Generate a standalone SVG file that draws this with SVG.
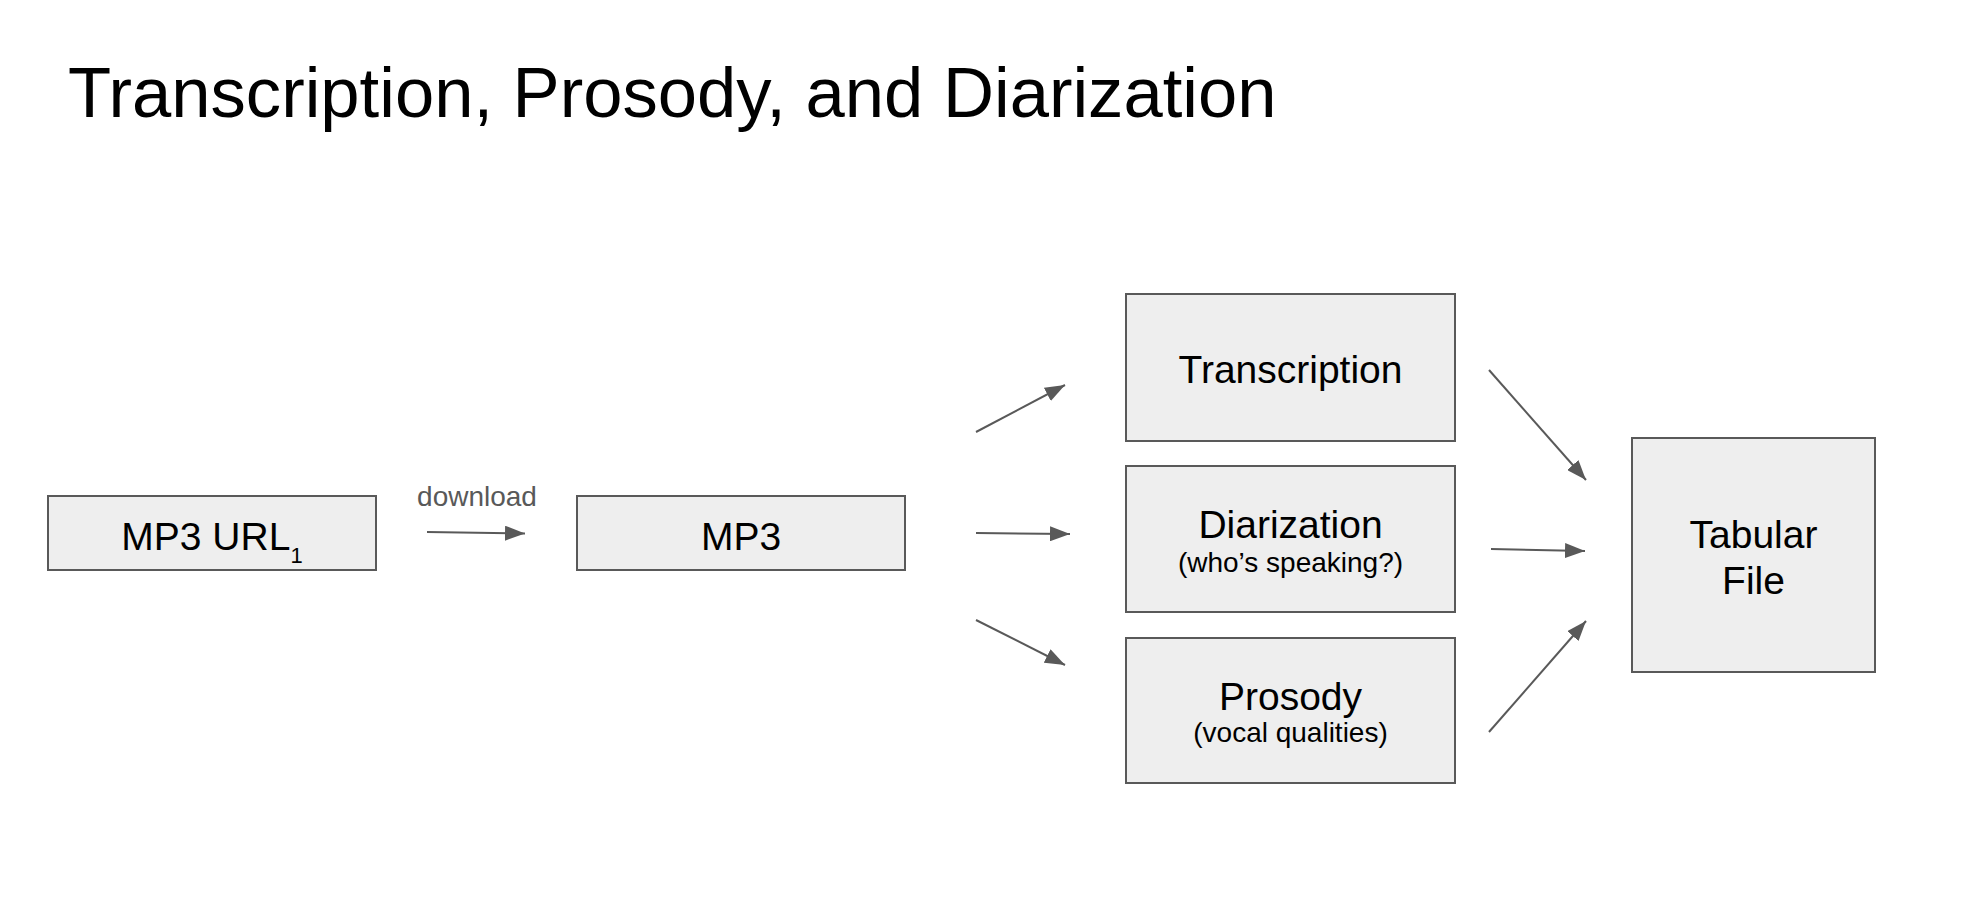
<svg xmlns="http://www.w3.org/2000/svg" width="1980" height="914" viewBox="0 0 1980 914">
  <defs>
    <style>
      text { font-family: "Liberation Sans", Arial, sans-serif; fill: #000; }
      .title { font-size: 70.6px; }
      .label { font-size: 39px; text-anchor: middle; }
      .sub { font-size: 28px; text-anchor: middle; }
      .edge-label { font-size: 28px; text-anchor: middle; fill: #595959; }
      .box { fill: #eeeeee; stroke: #595959; stroke-width: 2; }
      .edge { stroke: #595959; stroke-width: 2; fill: none; marker-end: url(#arrow); }
    </style>
    <marker id="arrow" viewBox="0 0 20 15" refX="20" refY="7.5" markerWidth="20" markerHeight="15" markerUnits="userSpaceOnUse" orient="auto">
      <path d="M0,0 L20,7.5 L0,15 Z" fill="#595959"/>
    </marker>
  </defs>

  <rect width="1980" height="914" fill="#ffffff"/>

  <text class="title" x="68" y="117">Transcription, Prosody, and Diarization</text>

  <!-- pipeline stages -->
  <g id="mp3-url">
    <rect class="box" x="48" y="496" width="328" height="74"/>
    <text class="label" x="212" y="550">MP3 URL<tspan font-size="22px" dy="13">1</tspan></text>
  </g>

  <g id="mp3">
    <rect class="box" x="577" y="496" width="328" height="74"/>
    <text class="label" x="741" y="550">MP3</text>
  </g>

  <g id="transcription">
    <rect class="box" x="1126" y="294" width="329" height="147"/>
    <text class="label" x="1290.5" y="383">Transcription</text>
  </g>

  <g id="diarization">
    <rect class="box" x="1126" y="466" width="329" height="146"/>
    <text class="label" x="1290.5" y="538">Diarization</text>
    <text class="sub" x="1290.5" y="572">(who’s speaking?)</text>
  </g>

  <g id="prosody">
    <rect class="box" x="1126" y="638" width="329" height="145"/>
    <text class="label" x="1290.5" y="710">Prosody</text>
    <text class="sub" x="1290.5" y="742">(vocal qualities)</text>
  </g>

  <g id="tabular-file">
    <rect class="box" x="1632" y="438" width="243" height="234"/>
    <text class="label" x="1753.5" y="548">Tabular</text>
    <text class="label" x="1753.5" y="594">File</text>
  </g>

  <!-- connectors -->
  <g id="connectors">
    <line class="edge" x1="427" y1="532" x2="525" y2="533.5"/>
    <text class="edge-label" x="477" y="506">download</text>
    <line class="edge" x1="976" y1="432" x2="1065" y2="385"/>
    <line class="edge" x1="976" y1="533" x2="1070" y2="534"/>
    <line class="edge" x1="976" y1="620" x2="1065" y2="665"/>
    <line class="edge" x1="1489" y1="370" x2="1586" y2="480"/>
    <line class="edge" x1="1491" y1="549" x2="1585" y2="551"/>
    <line class="edge" x1="1489" y1="732" x2="1586" y2="621"/>
  </g>
</svg>
